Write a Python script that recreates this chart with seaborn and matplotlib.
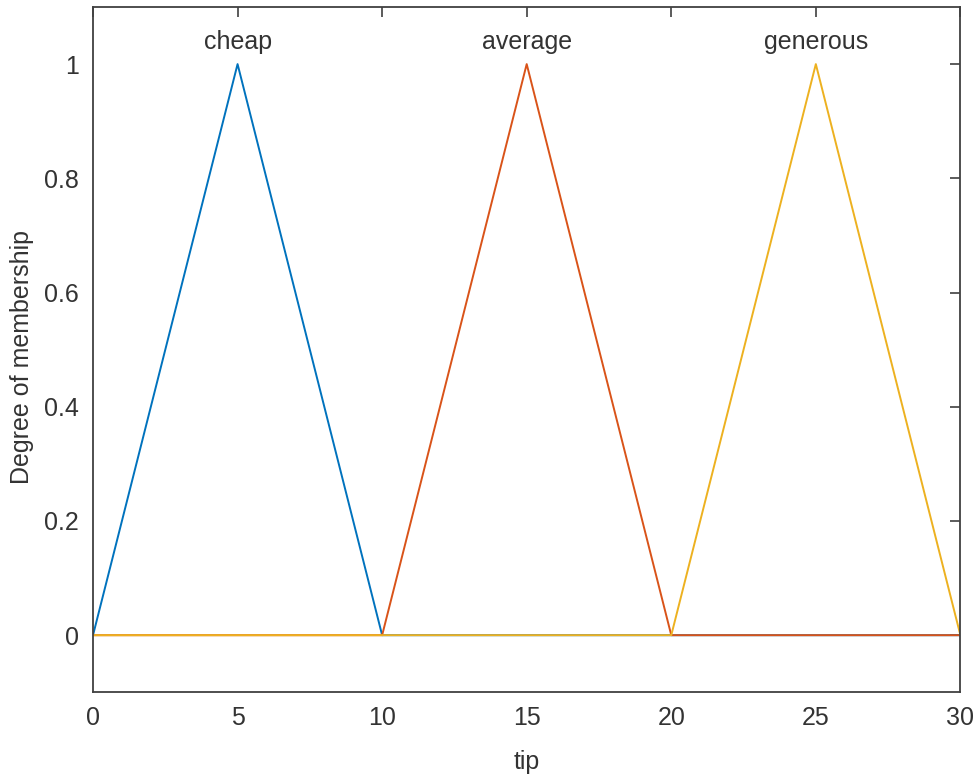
import numpy as np
import pandas as pd
import matplotlib
matplotlib.use("Agg")
import matplotlib.pyplot as plt
import seaborn as sns

# membership functions of "tip" (trimf), given by their break points
names = ["cheap", "average", "generous"]
cheap_x = [0, 5, 10, 30]
cheap_y = [0, 1, 0, 0]
average_x = [0, 10, 15, 20, 30]
average_y = [0, 0, 1, 0, 0]
generous_x = [0, 20, 25, 30]
generous_y = [0, 0, 1, 0]
peaks = [5, 15, 25]

xticks = [0, 5, 10, 15, 20, 25, 30]
yticks = [0, 0.2, 0.4, 0.6, 0.8, 1]

colors = ["#0072BD", "#D95319", "#EDB120"]
txt = "#333333"

rows = []
for name, xs, ys in zip(names, [cheap_x, average_x, generous_x], [cheap_y, average_y, generous_y]):
    for a, b in zip(xs, ys):
        rows.append({"tip": a, "mu": b, "mf": name})
df = pd.DataFrame(rows)

sns.set_style("white")
plt.rcParams["font.family"] = ["Liberation Sans", "DejaVu Sans"]

fig = plt.figure(figsize=(9.79, 7.77), dpi=100)
ax = fig.add_axes([0.095, 0.109, 0.886, 0.882])

sns.lineplot(data=df, x="tip", y="mu", hue="mf", hue_order=names,
             palette=colors, sort=False, estimator=None, linewidth=1.4,
             legend=False, ax=ax)

for name, px in zip(names, peaks):
    ax.text(px, 1.038, name, ha="center", va="center", fontsize=18, color=txt)

ax.set_xlim(0, 30)
ax.set_ylim(-0.1, 1.1)
ax.set_xticks(xticks)
ax.set_yticks(yticks)
ax.set_yticklabels(["0", "0.2", "0.4", "0.6", "0.8", "1"])
ax.set_xlabel("tip", fontsize=18, color=txt, labelpad=14)
ax.set_ylabel("Degree of membership", fontsize=18, color=txt, va="center")
ax.yaxis.set_label_coords(-0.082, 0.49)
ax.tick_params(direction="in", length=7, width=1.2, colors="#404040",
               labelcolor=txt, labelsize=18, top=True, right=True, pad=10)
for s in ax.spines.values():
    s.set_color("#404040")
    s.set_linewidth(1.3)
    s.set_visible(True)

fig.savefig("out.png", dpi=100, facecolor="white")
